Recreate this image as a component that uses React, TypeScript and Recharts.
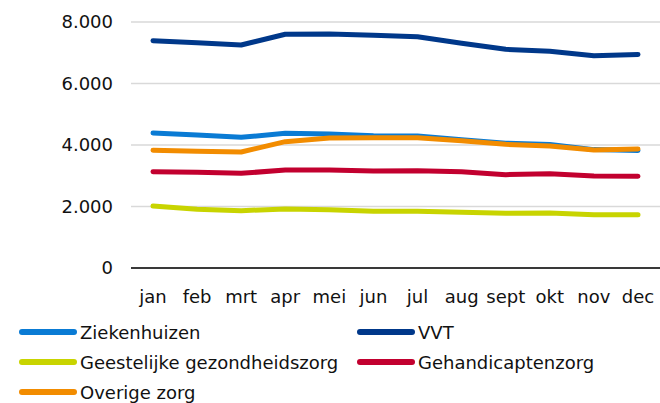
import React from "react";
import { CartesianGrid, Line, LineChart, XAxis, YAxis } from "recharts";

const maanden = ["jan", "feb", "mrt", "apr", "mei", "jun", "jul", "aug", "sept", "okt", "nov", "dec"];

const ziekenhuizen = [4390, 4325, 4250, 4380, 4358, 4300, 4290, 4170, 4060, 4020, 3850, 3820];
const vvt = [7392, 7327, 7252, 7600, 7610, 7567, 7523, 7306, 7111, 7046, 6904, 6947];
const ggz = [2016, 1908, 1864, 1919, 1897, 1843, 1843, 1810, 1778, 1789, 1734, 1734];
const gehandicaptenzorg = [3133, 3111, 3078, 3187, 3187, 3154, 3165, 3133, 3035, 3068, 2992, 2981];
const overigeZorg = [3827, 3794, 3772, 4108, 4228, 4238, 4238, 4140, 4022, 3967, 3840, 3870];

const yTicks = [0, 2000, 4000, 6000, 8000];

const series = [
  { key: "ziekenhuizen", name: "Ziekenhuizen", color: "#0a7bd4" },
  { key: "vvt", name: "VVT", color: "#00388a" },
  { key: "ggz", name: "Geestelijke gezondheidszorg", color: "#c8d400" },
  { key: "gehandicaptenzorg", name: "Gehandicaptenzorg", color: "#c2002f" },
  { key: "overige", name: "Overige zorg", color: "#f28c00" },
];

const data = maanden.map((maand, i) => ({
  maand,
  ziekenhuizen: ziekenhuizen[i],
  vvt: vvt[i],
  ggz: ggz[i],
  gehandicaptenzorg: gehandicaptenzorg[i],
  overige: overigeZorg[i],
}));

const formatThousands = (v: number) =>
  String(v).replace(/\B(?=(\d{3})+(?!\d))/g, ".");

const font = "'DejaVu Sans', Verdana, sans-serif";

const App = () => {
  return (
    <div
      style={{
        position: "relative",
        width: 660,
        height: 403,
        padding: "8px 0 0 8px",
        boxSizing: "border-box",
        overflow: "hidden",
        fontFamily: font,
      }}
    >
      {/* page is exactly the chart, no body margin */}
      <style>{"body{margin:0}"}</style>
      <LineChart
        width={652}
        height={300}
        data={data}
        margin={{ top: 14, right: 0, bottom: 0, left: 0 }}
        style={{ overflow: "visible" }}
      >
        <CartesianGrid vertical={false} stroke="#d9d9d9" strokeWidth={1.5} />
        <XAxis
          dataKey="maand"
          height={40}
          padding={{ left: 22, right: 22 }}
          axisLine={{ stroke: "#000", strokeWidth: 1.5 }}
          tickLine={false}
          tickSize={0}
          tickMargin={22}
          interval={0}
          tick={{ fill: "#111", fontSize: 18, fontFamily: font }}
        />
        <YAxis
          width={123}
          domain={[0, 8000]}
          ticks={yTicks}
          axisLine={false}
          tickLine={false}
          tickSize={0}
          tickMargin={18}
          tickFormatter={formatThousands}
          tick={{ fill: "#111", fontSize: 18, fontFamily: font }}
        />
        {series.map((s) => (
          <Line
            key={s.key}
            type="linear"
            dataKey={s.key}
            name={s.name}
            stroke={s.color}
            strokeWidth={5}
            strokeLinecap="round"
            strokeLinejoin="round"
            dot={false}
            activeDot={false}
            isAnimationActive={false}
          />
        ))}
      </LineChart>
      <div style={{ position: "absolute", left: 19, top: 317, width: 641 }}>
        {series.map((s, i) => (
          <div
            key={s.key}
            style={{
              position: "absolute",
              left: i % 2 === 0 ? 0 : 338,
              top: Math.floor(i / 2) * 30,
              height: 30,
              display: "flex",
              alignItems: "center",
              whiteSpace: "nowrap",
              fontSize: 18,
              color: "#111",
            }}
          >
            <span
              style={{
                display: "inline-block",
                width: 58,
                height: 6,
                borderRadius: 3,
                background: s.color,
                marginRight: 3,
              }}
            />
            {s.name}
          </div>
        ))}
      </div>
    </div>
  );
};

export default App;
